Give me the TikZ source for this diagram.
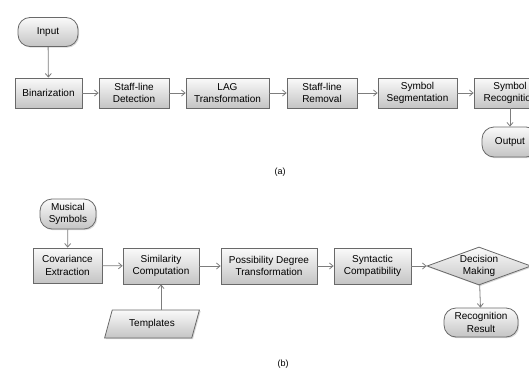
\documentclass[tikz,border=0pt]{standalone}
\usepackage{fontspec}
\setmainfont{Liberation Sans}
\usetikzlibrary{arrows.meta, positioning, shapes.geometric, shadows}
\definecolor{myborder}{RGB}{105,105,105}
\definecolor{myline}{RGB}{125,125,125}
\definecolor{mytop}{RGB}{250,250,250}
\definecolor{mybottom}{RGB}{196,196,196}

\begin{document}
\begin{tikzpicture}[x=1pt, y=-1pt,
    box/.style={rectangle, draw=myborder, line width=0.8pt, top color=mytop, bottom color=mybottom,
        drop shadow={shadow xshift=1.2pt, shadow yshift=-1.2pt, opacity=0.3},
        align=center, font=\fontsize{10}{12.5}\selectfont, minimum height=30pt, inner sep=1pt},
    term/.style={box, rounded corners=12pt},
    data/.style={box, trapezium, trapezium left angle=68, trapezium right angle=112,
        trapezium stretches=true, rounded corners=0pt},
    decision/.style={box, diamond, aspect=2.7, inner sep=-2pt},
    flow/.style={draw=myline, line width=0.8pt, -{Straight Barb[length=3.5pt, width=6pt]}},
    caption/.style={font=\fontsize{9}{11}\selectfont}]
    \useasboundingbox (0,0) rectangle (529,369);
    \clip (0,0) rectangle (529,369);

    % (a) staff-line pipeline
    \node[term, minimum width=60pt, minimum height=29pt] (input) at (48,32) {Input};
    \node[box, minimum width=67pt] (bin) at (48.5,93) {Binarization};
    \node[box, minimum width=70pt] (sdet) at (134,93) {Staff-line\\Detection};
    \node[box, minimum width=83pt] (lag) at (227.5,93) {LAG\\Transformation};
    \node[box, minimum width=70pt] (srem) at (322,93) {Staff-line\\Removal};
    \node[box, minimum width=79pt] (sseg) at (417.5,93) {Symbol\\Segmentation};
    \node[box, minimum width=72pt] (srec) at (510,93) {Symbol\\Recognition};
    \node[term, minimum width=56pt, minimum height=30pt] (output) at (510,142) {Output};
    \node[caption] (capa) at (280,172) {(a)};

    \draw[flow] (input) -- (bin);
    \draw[flow] (bin) -- (sdet);
    \draw[flow] (sdet) -- (lag);
    \draw[flow] (lag) -- (srem);
    \draw[flow] (srem) -- (sseg);
    \draw[flow] (sseg) -- (srec);
    \draw[flow] (srec) -- (output);

    % (b) recognition pipeline
    \node[term, minimum width=56pt, minimum height=30pt] (musical) at (68,214) {Musical\\Symbols};
    \node[box, minimum width=69pt, minimum height=35pt] (cov) at (67.5,265.5) {Covariance\\Extraction};
    \node[box, minimum width=76pt, minimum height=36pt] (sim) at (161,266) {Similarity\\Computation};
    \node[data, minimum width=95pt, minimum height=28pt] (tmpl) at (152,324) {Templates};
    \node[box, minimum width=96pt, minimum height=36pt] (poss) at (269,266) {Possibility Degree\\Transformation};
    \node[box, minimum width=77pt, minimum height=36pt] (synt) at (372.5,266) {Syntactic\\Compatibility};
    \node[decision, minimum width=104pt, minimum height=38pt] (dec) at (479,266) {Decision\\Making};
    \node[term, minimum width=74pt, minimum height=29pt] (res) at (481,322.5) {Recognition\\Result};
    \node[caption] (capb) at (283,364) {(b)};

    \draw[flow] (musical) -- (cov);
    \draw[flow] (cov) -- (sim);
    \draw[flow] (sim.south |- tmpl.north) -- (sim.south);
    \draw[flow] (sim) -- (poss);
    \draw[flow] (poss) -- (synt);
    \draw[flow] (synt) -- (dec);
    \draw[flow] (dec) -- (res);
\end{tikzpicture}
\end{document}
